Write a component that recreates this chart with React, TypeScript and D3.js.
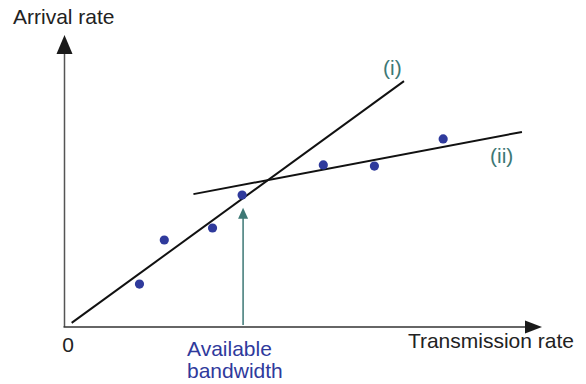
import React from "react";
import * as d3 from "d3";

// Probe measurements: transmission rate vs. observed arrival rate
const probeRates = [1.57, 2.09, 3.1, 3.72, 5.42, 6.49, 7.93];
const arrivalRates = [1.47, 2.98, 3.39, 4.52, 5.55, 5.51, 6.44];

// Fitted segments: (i) below available bandwidth, (ii) above it
const fitIRates = [0.15, 7.11];
const fitIArrival = [0.14, 8.42];
const fitIIRates = [2.7, 9.58];
const fitIIArrival = [4.55, 6.68];

const availableBandwidth = 3.74;
const bandwidthMarkerTop = 4.08;

const W = 586;
const H = 384;

export default function App() {
  const x = d3.scaleLinear().domain([0, 10]).range([64.5, 542]);
  const y = d3.scaleLinear().domain([0, 10]).range([327, 35]);

  const line = d3
    .line<[number, number]>()
    .x((d) => x(d[0]))
    .y((d) => y(d[1]));

  const fitI: [number, number][] = fitIRates.map((r, i) => [r, fitIArrival[i]]);
  const fitII: [number, number][] = fitIIRates.map((r, i) => [r, fitIIArrival[i]]);

  const font = "'Liberation Sans', Arial, Helvetica, sans-serif";
  const teal = "#3d7875";
  const blue = "#2f3a9c";
  const fs = 21;

  const x0 = x(0);
  const y0 = y(0);
  const xEnd = x(10);
  const yEnd = y(10);
  const ab = x(availableBandwidth);
  const abTop = y(bandwidthMarkerTop);

  return (
    <svg
      width={W}
      height={H}
      style={{ position: "absolute", left: 0, top: 0, background: "#fff" }}
      fontFamily={font}
    >
      {/* axes */}
      <line x1={x0} y1={y0} x2={x0} y2={yEnd + 15} stroke="#555" strokeWidth={1.5} />
      <polygon
        points={`${x0},${yEnd} ${x0 - 8},${yEnd + 19} ${x0 + 8},${yEnd + 19}`}
        fill="#1a1a1a"
      />
      <line x1={x0 - 1} y1={y0} x2={xEnd - 15} y2={y0} stroke="#333" strokeWidth={1.5} />
      <polygon
        points={`${xEnd},${y0} ${xEnd - 17},${y0 - 6.5} ${xEnd - 17},${y0 + 6.5}`}
        fill="#1a1a1a"
      />

      {/* fitted lines */}
      <path d={line(fitI) ?? ""} stroke="#111" strokeWidth={2} fill="none" />
      <path d={line(fitII) ?? ""} stroke="#111" strokeWidth={2} fill="none" />

      {/* available bandwidth marker */}
      <line x1={ab} y1={y0 - 2} x2={ab} y2={abTop + 8} stroke={teal} strokeWidth={1.5} />
      <polygon
        points={`${ab},${abTop} ${ab - 5},${abTop + 11} ${ab + 5},${abTop + 11}`}
        fill={teal}
      />

      {/* measurements */}
      {probeRates.map((r, i) => (
        <circle key={i} cx={x(r)} cy={y(arrivalRates[i])} r={4.6} fill={blue} />
      ))}

      {/* labels */}
      <text x={13} y={24} fontSize={fs} fill="#222">
        Arrival rate
      </text>
      <text x={574} y={348} fontSize={fs} fill="#222" textAnchor="end">
        Transmission rate
      </text>
      <text x={68} y={352} fontSize={fs} fill="#222" textAnchor="middle">
        0
      </text>
      <text x={187} y={356} fontSize={fs} fill={blue}>
        Available
      </text>
      <text x={187} y={378} fontSize={fs} fill={blue}>
        bandwidth
      </text>
      <text x={383} y={75} fontSize={fs} fill={teal}>
        (i)
      </text>
      <text x={490} y={163} fontSize={fs} fill={teal}>
        (ii)
      </text>
    </svg>
  );
}
